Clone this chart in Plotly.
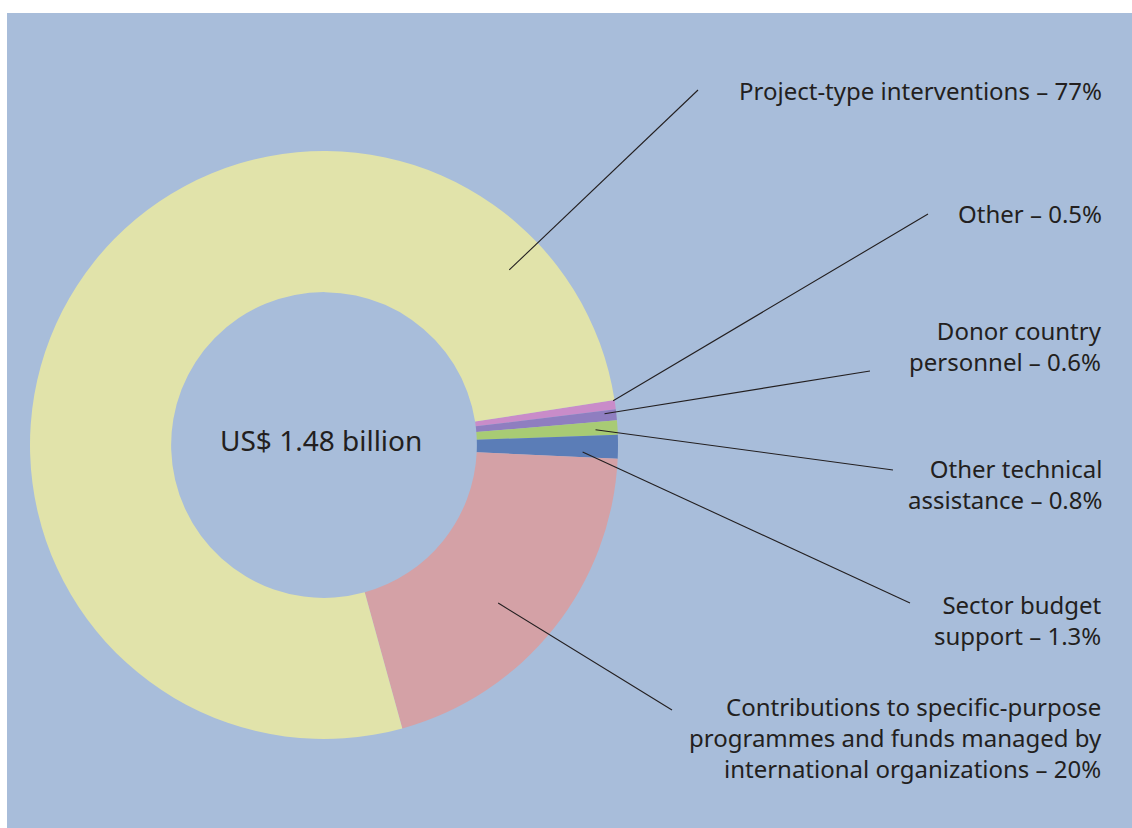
import math
import plotly.graph_objects as go

# Aid by type of flow (share of total, %)
categories = [
    "Other",
    "Donor country personnel",
    "Other technical assistance",
    "Sector budget support",
    "Contributions to specific-purpose programmes and funds managed by international organizations",
    "Project-type interventions",
]
shares = [0.5, 0.6, 0.8, 1.3, 20, 77]
value_text = ["0.5%", "0.6%", "0.8%", "1.3%", "20%", "77%"]
label_lines = [
    ["Other – {}"],
    ["Donor country", "personnel – {}"],
    ["Other technical", "assistance – {}"],
    ["Sector budget", "support – {}"],
    ["Contributions to specific-purpose", "programmes and funds managed by", "international organizations – {}"],
    ["Project-type interventions – {}"],
]
slice_colors = ["#C98CC9", "#8F7EC0", "#A8CB74", "#5B7DB7", "#D4A1A6", "#E1E3AA"]
total_label = "US$ 1.48 billion"

W, H = 1132, 828
BG = "#A8BDDA"
TXT = "#231F20"
FONT = "Noto Sans"

# donut geometry (pixels)
CX, CY, R = 324, 445, 294
ROT = 81.2
HOLE = 0.52

def px(x):
    return x / W

def py(y):
    return 1 - y / H

# leader-line anchors: position within slice (0..1) and radius fraction
anchor_frac = [0.05, 0.3, 0.57, 0.75, 0.55, 0.875]
anchor_rad = [0.995, 0.96, 0.925, 0.88, 0.80, 0.867]
# leader-line outer ends and label block centres (pixels)
line_end = [(928, 214), (870, 371), (893, 470), (910, 603), (672, 710), (698, 90)]
label_y = [213, 346, 484, 620, 737, 90]
label_right = 1104

fig = go.Figure(go.Pie(
    labels=categories,
    values=shares,
    hole=HOLE,
    sort=False,
    direction="clockwise",
    rotation=ROT,
    marker=dict(colors=slice_colors, line=dict(width=0)),
    textinfo="none",
    hoverinfo="label+percent",
    showlegend=False,
    domain=dict(x=[px(CX - R), px(CX + R)], y=[py(CY + R), py(CY - R)]),
))

shapes = [dict(type="rect", xref="paper", yref="paper",
               x0=px(7), x1=1, y0=0, y1=py(13),
               fillcolor=BG, line=dict(width=0), layer="below")]
annotations = []

tot = sum(shares)
start = ROT
for i, v in enumerate(shares):
    span = v / tot * 360
    theta = math.radians(start + anchor_frac[i] * span)
    r = R * anchor_rad[i]
    ax_ = CX + r * math.sin(theta)
    ay_ = CY - r * math.cos(theta)
    start += span
    ex, ey = line_end[i]
    shapes.append(dict(type="line", xref="paper", yref="paper",
                       x0=px(ax_), y0=py(ay_), x1=px(ex), y1=py(ey),
                       line=dict(color=TXT, width=1.1)))
    text = "<br>".join(l.format(value_text[i]) for l in label_lines[i])
    annotations.append(dict(
        text=text, xref="paper", yref="paper", align="right",
        x=px(label_right), y=py(label_y[i]), xanchor="right", yanchor="middle",
        showarrow=False, font=dict(family=FONT, size=24, color=TXT)))

annotations.append(dict(
    text=total_label, xref="paper", yref="paper", x=px(321), y=py(440),
    xanchor="center", yanchor="middle", showarrow=False,
    font=dict(family=FONT, size=28, color=TXT)))

fig.update_layout(
    width=W, height=H,
    margin=dict(l=0, r=0, t=0, b=0),
    paper_bgcolor="white",
    plot_bgcolor="white",
    shapes=shapes,
    annotations=annotations,
)

fig.write_html("out.html")
